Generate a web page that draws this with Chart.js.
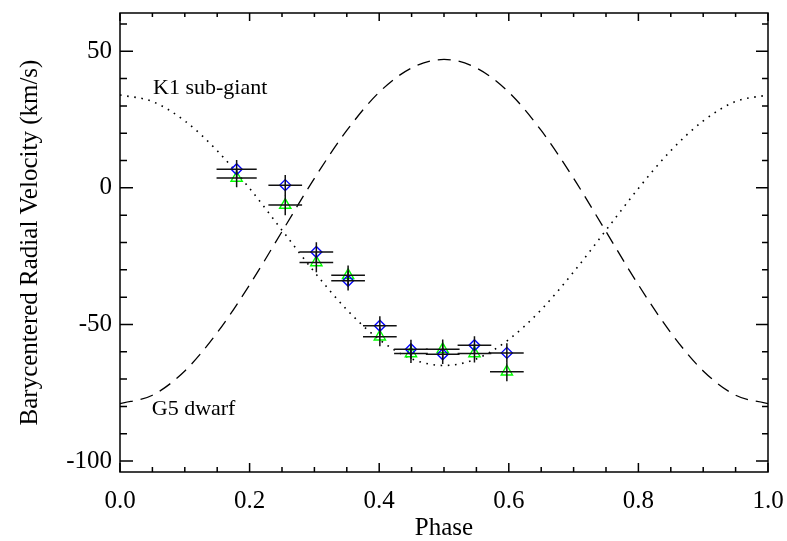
<!DOCTYPE html>
<html lang="en">
<head>
<meta charset="UTF-8">
<title>Barycentered Radial Velocity</title>
<script src="https://cdn.jsdelivr.net/npm/chart.js"></script>
<style>
  body { margin: 0; background: #fff; }
  .wrap { width: 787px; height: 541px; position: relative; }
</style>
</head>
<body>
<div class="wrap"><canvas id="rvChart"></canvas></div>
<script>
// model curves, every 0.05 in phase
const curvePhase = [0, 0.05, 0.1, 0.15, 0.2, 0.25, 0.3, 0.35, 0.4, 0.45, 0.5,
                    0.55, 0.6, 0.65, 0.7, 0.75, 0.8, 0.85, 0.9, 0.95, 1.0];
const k1Model = [34.0, 31.6, 24.5, 13.6, -0.2, -15.5, -30.8, -44.6, -55.5, -62.6, -65.0,
                 -62.6, -55.5, -44.6, -30.8, -15.5, -0.2, 13.6, 24.5, 31.6, 34.0];
const g5Model = [-79.0, -75.9, -67.0, -53.0, -35.5, -16.0, 3.5, 21.0, 35.0, 43.9, 47.0,
                 43.9, 35.0, 21.0, 3.5, -16.0, -35.5, -53.0, -67.0, -75.9, -79.0];

// measured velocities
const obsPhase = [0.180, 0.255, 0.303, 0.352, 0.401, 0.449, 0.498, 0.547, 0.597];
const phaseErr = [0.031, 0.026, 0.026, 0.026, 0.026, 0.026, 0.026, 0.026, 0.026];
const diamondVel = [6.8, 1.0, -23.5, -34.0, -50.5, -59.1, -60.9, -57.6, -60.4];
const triangleVel = [3.6, -6.3, -27.3, -32.0, -54.5, -60.6, -59.1, -60.6, -67.3];
const velErr = [3.4, 3.7, 3.6, 3.6, 3.5, 3.5, 3.6, 3.3, 3.5];

const xTicks = [0, 0.2, 0.4, 0.6, 0.8, 1.0];
const yTicks = [-100, -50, 0, 50];
const curveNames = ['K1 sub-giant', 'G5 dwarf'];

const serif = '"Liberation Serif", "Times New Roman", serif';
const toXY = (xs, ys) => xs.map((v, i) => ({ x: v, y: ys[i] }));

// where the two curve names sit, in data units (phase, km/s)
const nameSpots = [[0.051, 34.5], [0.049, -83.2]];

// fixed box sizes so the plot area lands where the original one is
const fixBox = size => s => {
  if (s.isHorizontal()) s.height = size; else s.width = size;
  s.paddingTop = s.paddingBottom = s.paddingLeft = s.paddingRight = 0;
};

const framePlugin = {
  id: 'framePlugin',
  afterDatasetsDraw(chart) {
    const { ctx, chartArea: a, scales: { x, y } } = chart;
    ctx.save();
    ctx.strokeStyle = '#111';
    ctx.lineWidth = 1.5;

    // error bars
    [diamondVel, triangleVel].forEach(vals => {
      vals.forEach((v, i) => {
        const px = x.getPixelForValue(obsPhase[i]);
        const py = y.getPixelForValue(v);
        ctx.beginPath();
        ctx.moveTo(x.getPixelForValue(obsPhase[i] - phaseErr[i]), py);
        ctx.lineTo(x.getPixelForValue(obsPhase[i] + phaseErr[i]), py);
        ctx.moveTo(px, y.getPixelForValue(v + velErr[i]));
        ctx.lineTo(px, y.getPixelForValue(v - velErr[i]));
        ctx.stroke();
      });
    });

    // box
    ctx.strokeStyle = '#000';
    ctx.strokeRect(a.left, a.top, a.right - a.left, a.bottom - a.top);

    // inward ticks on all four sides
    ctx.beginPath();
    for (let i = 0; i <= 20; i++) {
      const px = x.getPixelForValue(i / 20);
      const major = i % 4 === 0;
      ctx.moveTo(px, a.bottom);
      ctx.lineTo(px, a.bottom - (major ? 9 : 5));
      ctx.moveTo(px, a.top);
      ctx.lineTo(px, a.top + (major ? 8 : 4));
    }
    for (let v = -100; v <= 60; v += 10) {
      const py = y.getPixelForValue(v);
      const major = v % 50 === 0;
      ctx.moveTo(a.left, py);
      ctx.lineTo(a.left + (major ? 13 : 7), py);
      ctx.moveTo(a.right, py);
      ctx.lineTo(a.right - (major ? 12 : 6), py);
    }
    ctx.stroke();

    // curve names
    ctx.fillStyle = '#000';
    ctx.font = '22px ' + serif;
    ctx.textAlign = 'left';
    ctx.textBaseline = 'alphabetic';
    curveNames.forEach((name, i) => {
      ctx.fillText(name, x.getPixelForValue(nameSpots[i][0]), y.getPixelForValue(nameSpots[i][1]));
    });
    ctx.restore();
  }
};

new Chart(document.getElementById('rvChart'), {
  type: 'scatter',
  data: {
    datasets: [
      {
        label: 'diamonds',
        data: toXY(obsPhase, diamondVel),
        pointStyle: 'rectRot',
        pointRadius: 5.5,
        borderColor: '#0000ff',
        backgroundColor: 'rgba(0,0,0,0)',
        borderWidth: 1.4
      },
      {
        label: 'triangles',
        data: toXY(obsPhase, triangleVel),
        pointStyle: 'triangle',
        pointRadius: 6.5,
        borderColor: '#00ff00',
        backgroundColor: 'rgba(0,0,0,0)',
        borderWidth: 1.4
      },
      {
        label: curveNames[0],
        data: toXY(curvePhase, k1Model),
        showLine: true,
        pointRadius: 0,
        borderColor: '#000',
        borderWidth: 1.6,
        borderDash: [1.6, 5.6],
        cubicInterpolationMode: 'monotone'
      },
      {
        label: curveNames[1],
        data: toXY(curvePhase, g5Model),
        showLine: true,
        pointRadius: 0,
        borderColor: '#000',
        borderWidth: 1.3,
        borderDash: [13, 8],
        cubicInterpolationMode: 'monotone'
      }
    ]
  },
  options: {
    responsive: true,
    maintainAspectRatio: false,
    animation: false,
    layout: { autoPadding: false, padding: { top: 13, right: 19, left: 0, bottom: 0 } },
    plugins: { legend: { display: false }, tooltip: { enabled: false } },
    scales: {
      x: {
        type: 'linear',
        min: 0,
        max: 1,
        afterBuildTicks: s => { s.ticks = xTicks.map(v => ({ value: v })); },
        afterFit: fixBox(69),
        grid: { display: false, drawTicks: false },
        border: { display: false },
        ticks: {
          callback: v => v.toFixed(1),
          color: '#000',
          font: { family: serif, size: 25 },
          padding: 14,
          maxRotation: 0,
          autoSkip: false
        },
        title: {
          display: true,
          text: 'Phase',
          color: '#000',
          font: { family: serif, size: 25, lineHeight: 1 },
          padding: 0
        }
      },
      y: {
        type: 'linear',
        min: -104,
        max: 64,
        afterBuildTicks: s => { s.ticks = yTicks.map(v => ({ value: v })); },
        afterFit: fixBox(120),
        grid: { display: false, drawTicks: false },
        border: { display: false },
        ticks: {
          callback: v => String(v),
          color: '#000',
          font: { family: serif, size: 25 },
          padding: 8,
          autoSkip: false
        },
        title: {
          display: true,
          text: 'Barycentered Radial Velocity (km/s)',
          color: '#000',
          font: { family: serif, size: 25, lineHeight: 1 },
          padding: { top: 18, bottom: 0 }
        }
      }
    }
  },
  plugins: [framePlugin]
});
</script>
</body>
</html>
